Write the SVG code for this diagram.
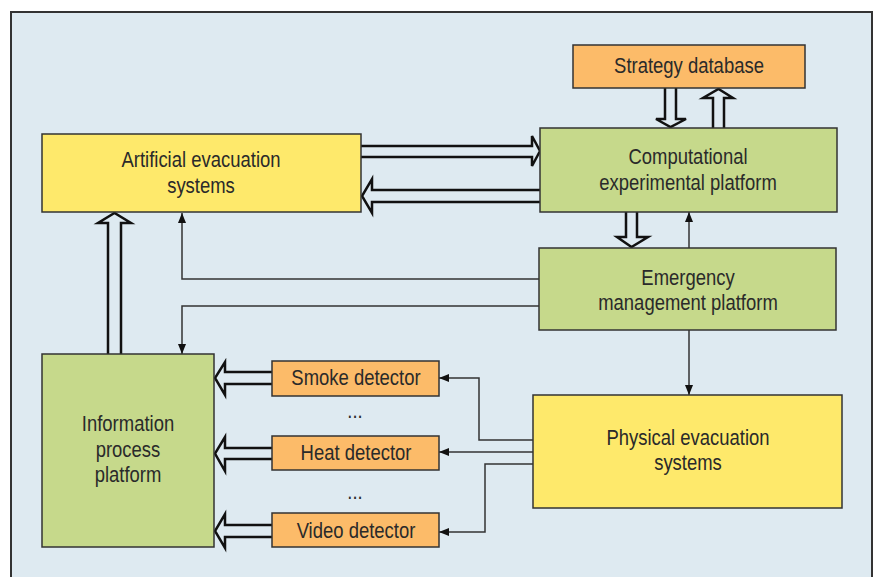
<svg xmlns="http://www.w3.org/2000/svg" width="876" height="577" viewBox="0 0 876 577">
  <style>
    .box { stroke: #333; stroke-width: 1.5; }
    .orange { fill: #fcbb69; }
    .green { fill: #c6d98b; }
    .yellow { fill: #fee96b; }
    /* condensed lettering: Liberation Sans squeezed horizontally per label */
    .lbl { font-family: "Liberation Sans", Arial, sans-serif; font-size: 22px; fill: #2a2a2a; text-anchor: middle; }
    .hollow { fill: #deeaf1; stroke: #111; stroke-width: 2.5; stroke-linejoin: miter; }
    .thin { fill: none; stroke: #333; stroke-width: 1.5; }
  </style>
  <defs>
    <marker id="head" viewBox="0 0 10 8" refX="10" refY="4" markerWidth="10" markerHeight="8" markerUnits="userSpaceOnUse" orient="auto">
      <path d="M0,0 L10,4 L0,8 z" fill="#111"/>
    </marker>
  </defs>

  <!-- panel background -->
  <rect x="11" y="12" width="861" height="580" fill="#deeaf1" stroke="#333" stroke-width="2"/>

  <!-- connectors -->
  <g id="connectors">
    <!-- hollow block arrows -->
    <path class="hollow" d="M665,88 V119 H656 L670.5,127 L686,119 H676 V88"/>
    <path class="hollow" d="M713,128 V98 H703 L718.5,89 L733,98 H724 V128"/>
    <path class="hollow" d="M361,146 H532 V136 L540,151 L532,166 V157 H361"/>
    <path class="hollow" d="M540,190 H372 V179 L362,196 L372,213 V202 H540"/>
    <path class="hollow" d="M626,212 V237 H617 L631.5,247 L648,237 H637 V212"/>
    <path class="hollow" d="M108,354 V223 H98 L114.5,213 L131,223 H121 V354"/>
    <path class="hollow" d="M272,372 H225 V362 L215,378 L225,395 V384 H272"/>
    <path class="hollow" d="M272,448 H225 V437 L215,453.5 L225,471 V459 H272"/>
    <path class="hollow" d="M272,525 H225 V514 L215,531 L225,548 V537 H272"/>

    <!-- thin signal lines -->
    <path class="thin" marker-end="url(#head)" d="M539,279 H182 V213"/>
    <path class="thin" marker-end="url(#head)" d="M539,306 H182 V354"/>
    <path class="thin" marker-end="url(#head)" d="M689,248 V212"/>
    <path class="thin" marker-end="url(#head)" d="M689,330 V395"/>
    <path class="thin" marker-end="url(#head)" d="M533,440 H479 V378 H439"/>
    <path class="thin" marker-end="url(#head)" d="M533,452 H439"/>
    <path class="thin" marker-end="url(#head)" d="M533,464 H485 V532 H439"/>
  </g>

  <g id="strategy-database">
    <rect class="box orange" x="573" y="45" width="232" height="43"/>
    <text class="lbl" transform="translate(689 73) scale(0.84 1)">Strategy database</text>
  </g>

  <g id="computational-platform">
    <rect class="box green" x="540" y="128" width="297" height="84"/>
    <text class="lbl" transform="translate(688 164) scale(0.84 1)">Computational</text>
    <text class="lbl" transform="translate(688 190) scale(0.84 1)">experimental platform</text>
  </g>

  <g id="artificial-evacuation">
    <rect class="box yellow" x="42" y="134" width="319" height="78"/>
    <text class="lbl" transform="translate(201 167) scale(0.84 1)">Artificial evacuation</text>
    <text class="lbl" transform="translate(201 193) scale(0.84 1)">systems</text>
  </g>

  <g id="emergency-platform">
    <rect class="box green" x="539" y="248" width="297" height="82"/>
    <text class="lbl" transform="translate(688 285) scale(0.84 1)">Emergency</text>
    <text class="lbl" transform="translate(688 310) scale(0.84 1)">management platform</text>
  </g>

  <g id="physical-evacuation">
    <rect class="box yellow" x="533" y="395" width="309" height="113"/>
    <text class="lbl" transform="translate(688 445) scale(0.84 1)">Physical evacuation</text>
    <text class="lbl" transform="translate(688 470) scale(0.84 1)">systems</text>
  </g>

  <g id="information-platform">
    <rect class="box green" x="42" y="354" width="172" height="193"/>
    <text class="lbl" transform="translate(128 431) scale(0.84 1)">Information</text>
    <text class="lbl" transform="translate(128 457) scale(0.84 1)">process</text>
    <text class="lbl" transform="translate(128 482) scale(0.84 1)">platform</text>
  </g>

  <g id="smoke-detector">
    <rect class="box orange" x="272" y="361" width="167" height="35"/>
    <text class="lbl" transform="translate(356 385) scale(0.84 1)">Smoke detector</text>
  </g>

  <g id="heat-detector">
    <rect class="box orange" x="272" y="436" width="167" height="34"/>
    <text class="lbl" transform="translate(356 460) scale(0.84 1)">Heat detector</text>
  </g>

  <g id="video-detector">
    <rect class="box orange" x="272" y="513" width="167" height="34"/>
    <text class="lbl" transform="translate(356 538) scale(0.84 1)">Video detector</text>
  </g>

  <text class="lbl" transform="translate(355 418) scale(0.84 1)">...</text>
  <text class="lbl" transform="translate(355 499) scale(0.84 1)">...</text>
</svg>
